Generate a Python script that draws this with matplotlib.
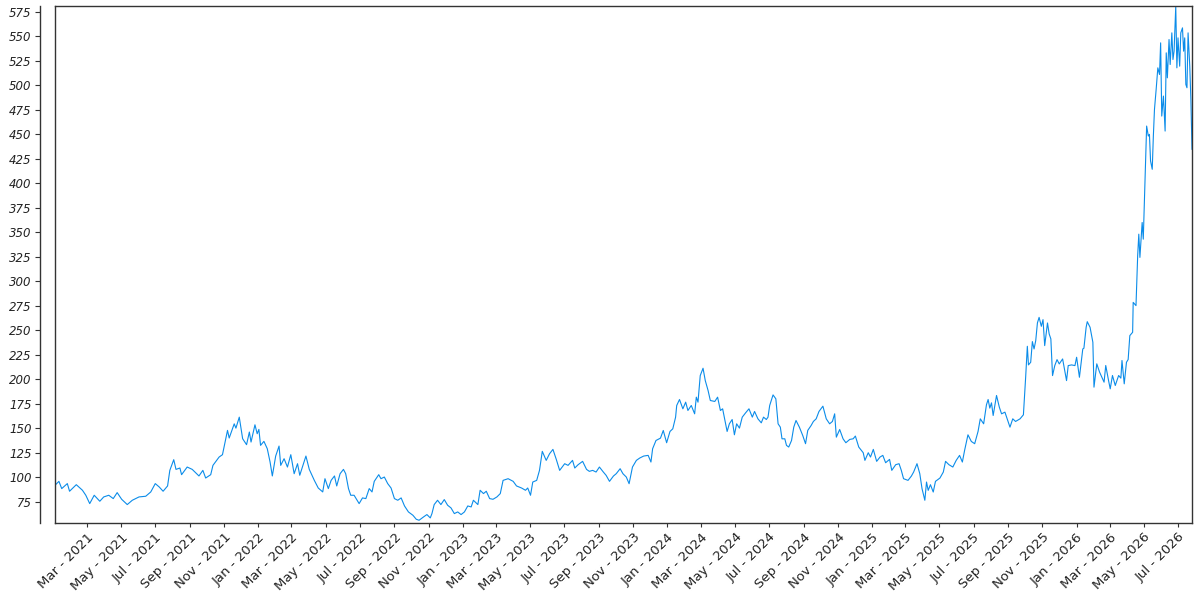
import matplotlib
matplotlib.use("Agg")
import matplotlib.pyplot as plt
import matplotlib.dates as mdates
import pandas as pd

start_date = "2021-01-01"

# day offsets from start_date, and price values
days = [2, 9, 14, 24, 28, 40, 51, 57, 64, 72, 82, 89, 98, 106, 113, 121, 131, 140, 152, 164,
        173, 181, 188, 195, 203, 207, 214, 218, 225, 228, 238, 247, 259, 266, 271, 280, 284, 295, 301, 310,
        313, 322, 325, 331, 337, 344, 349, 352, 359, 363, 366, 369, 375, 381, 386, 390, 396, 402, 405, 411,
        417, 423, 429, 435, 439, 450, 456, 465,
        472, 480, 484, 490, 495, 501, 505, 511, 517, 521, 526, 530, 536, 545, 551, 557, 563, 568, 572, 580,
        584, 590, 596, 602, 608, 614, 620, 626, 633, 641, 647, 652, 660, 666, 672, 675, 679, 685, 691, 697,
        703, 709, 715, 721, 727, 733, 739, 745, 749, 757, 761, 767, 772, 778, 784, 791, 797, 802, 811, 820,
        826, 835, 842, 846, 851, 855, 862, 867, 872, 879, 885, 891, 897, 903, 912, 918, 926, 930, 936, 944,
        951,
        956, 962, 968, 974, 981, 986, 992, 999, 1004, 1011, 1016, 1022, 1027, 1033, 1040, 1046, 1053, 1061, 1066, 1069,
        1075, 1083, 1088, 1094, 1100, 1105, 1110, 1112, 1117, 1123, 1128, 1132, 1138, 1144, 1147, 1150, 1154, 1159, 1163, 1168,
        1172, 1180, 1185, 1190, 1194, 1202, 1206, 1211, 1215, 1219, 1224, 1229, 1235, 1241, 1247, 1251, 1257, 1263, 1267, 1272,
        1275, 1278, 1284, 1289, 1293, 1297, 1300, 1305, 1308, 1312, 1317, 1321, 1325, 1331, 1337, 1342, 1346, 1352, 1356, 1361,
        1366, 1373, 1379, 1385, 1390, 1394, 1397, 1403, 1409, 1414, 1421, 1427, 1431, 1437,
        1445, 1448, 1454, 1458, 1463, 1469, 1475, 1480, 1485, 1492, 1496, 1503, 1509, 1513, 1517, 1525, 1531, 1535, 1541, 1546,
        1550, 1555, 1558, 1561, 1565, 1570, 1574, 1582, 1588, 1592, 1598, 1605, 1611, 1617, 1622, 1626, 1632, 1638, 1644, 1650,
        1654, 1660, 1665, 1668, 1671, 1674, 1677, 1683, 1688, 1692, 1698, 1702, 1707, 1712, 1717, 1725, 1731, 1735, 1738, 1740,
        1744, 1747, 1750, 1753, 1756, 1759, 1763, 1766, 1769, 1774, 1777, 1780, 1783, 1787, 1791, 1795, 1801, 1808, 1811, 1817,
        1823, 1826, 1831, 1837, 1839, 1843, 1845, 1850,
        1855, 1857, 1862, 1867, 1871, 1875, 1878, 1883, 1886, 1890, 1895, 1901, 1905, 1907, 1911, 1915, 1918, 1921, 1926, 1927,
        1932, 1935, 1937, 1939, 1943, 1945, 1948, 1951, 1954, 1956, 1958, 1961, 1963, 1965, 1968, 1971, 1974, 1976, 1978, 1981,
        1984, 1986, 1988, 1991, 1993, 1996, 1998, 2000, 2003, 2005, 2007, 2010, 2012, 2015, 2017, 2019, 2021, 2023, 2025, 2028,
        2030, 2032]

prices = [92.0, 96.0, 88.6, 93.7, 85.9, 92.6, 86.9, 81.8, 73.3, 81.8, 75.7, 80.1, 81.8, 78.4, 84.5, 77.7, 72.3, 76.7, 80.1, 80.8,
          85.2, 93.7, 90.3, 85.9, 91.3, 107.2, 118.1, 108.2, 109.6, 102.8, 110.6, 108.2, 101.5, 107.2, 99.4, 102.8, 112.3, 120.8, 123.2, 148.0,
          140.2, 154.7, 150.3, 161.5, 139.5, 133.4, 146.3, 136.1, 153.7, 144.6, 149.0, 132.7, 136.8, 129.3, 115.7, 101.5, 121.8, 132.0, 112.3, 119.1,
          110.6, 123.2, 103.8, 114.0, 102.2, 121.8, 108.2, 97.0,
          89.2, 85.2, 98.7, 88.6, 97.0, 101.5, 91.3, 103.8, 108.2, 103.8, 88.6, 81.8, 81.8, 73.3, 79.1, 78.4, 88.6, 85.2, 96.0, 102.8,
          98.7, 100.4, 93.7, 89.2, 78.4, 76.7, 79.1, 70.9, 64.8, 61.4, 57.3, 56.3, 59.7, 62.1, 58.7, 63.1, 72.3, 76.7, 72.3, 77.4,
          71.6, 68.9, 63.1, 64.8, 62.1, 64.8, 70.9, 69.9, 76.7, 72.3, 86.9, 83.5, 85.9, 78.4, 77.7, 80.1, 83.5, 97.0, 98.7, 96.0,
          91.3, 89.2, 86.9, 89.2, 81.8, 95.3, 97.0, 107.2, 126.6, 117.4, 124.2, 128.6, 118.4, 107.2, 114.0, 112.3, 117.4, 109.6, 113.0, 116.4,
          108.2,
          106.2, 107.2, 105.5, 110.6, 105.5, 102.1, 96.0, 101.4, 103.8, 108.9, 103.8, 100.4, 93.6, 110.6, 117.4, 119.8, 121.8, 122.5, 115.7, 129.3,
          137.7, 140.1, 147.9, 135.4, 146.9, 149.6, 161.5, 173.4, 179.5, 170.0, 176.8, 168.3, 173.4, 164.9, 181.9, 176.8, 203.9, 211.4, 198.8, 188.7,
          178.5, 177.5, 181.9, 168.3, 170.0, 146.9, 154.7, 159.1, 143.5, 154.7, 150.3, 161.5, 165.9, 170.0, 161.5, 167.3, 159.8, 155.7, 161.5, 159.1,
          161.5, 173.4, 184.2, 180.2, 154.7, 151.3, 139.4, 139.4, 132.7, 131.0, 137.7, 151.3, 158.1, 151.3, 142.8, 134.4, 148.0, 153.0, 157.1, 159.8,
          167.3, 172.7, 159.8, 154.7, 157.1, 164.9, 141.1, 148.9, 139.4, 135.4, 138.8, 139.4, 142.2, 131.0,
          125.2, 117.4, 125.2, 120.8, 128.6, 116.4, 120.8, 122.5, 115.0, 118.4, 107.2, 113.0, 114.0, 107.2, 98.7, 97.0, 101.4, 105.5, 114.0, 103.8,
          88.5, 76.7, 95.3, 86.8, 92.6, 85.1, 96.0, 99.4, 105.5, 116.4, 113.0, 110.6, 117.4, 122.5, 115.7, 127.6, 143.5, 136.7, 134.4, 146.9,
          159.8, 154.7, 174.1, 179.5, 170.7, 176.1, 163.2, 183.6, 171.7, 164.9, 166.6, 159.8, 151.3, 159.8, 157.1, 159.8, 163.9, 202.2, 233.8, 214.8,
          217.5, 238.6, 231.1, 239.6, 257.6, 263.3, 254.2, 261.0, 234.5, 257.6, 246.4, 241.3, 203.9, 214.1, 220.2, 215.8, 220.9, 198.8, 214.1, 214.8,
          214.1, 222.6, 202.2, 231.1, 231.8, 253.2, 258.9, 253.2,
          237.9, 192.1, 215.9, 207.4, 202.3, 197.2, 214.2, 198.9, 190.4, 204.0, 193.8, 204.0, 201.3, 219.3, 195.5, 217.5, 220.3, 244.7, 248.1, 278.6,
          275.3, 326.2, 348.2, 324.5, 360.1, 343.1, 400.8, 458.5, 448.3, 450.0, 422.9, 414.4, 448.3, 475.5, 495.9, 517.9, 511.1, 543.4, 468.7, 489.1,
          453.4, 533.2, 507.7, 546.8, 521.3, 553.6, 526.4, 534.9, 580.7, 517.9, 548.5, 519.6, 553.6, 558.7, 534.9, 548.5, 501.0, 497.6, 553.6, 519.6,
          485.7, 434.8]

y_ticks = list(range(75, 576, 25))

dates = pd.Timestamp(start_date) + pd.to_timedelta(days, unit="D")

fig = plt.figure(figsize=(12, 6), dpi=100)
ax = fig.add_axes([55 / 1200, 77 / 600, 1137 / 1200, 517 / 600])

ax.plot(dates, prices, color="#0B8CE9", linewidth=0.8)

ax.set_xlim(dates[0], dates[-1])
ax.set_ylim(53.5, 581)

frame_color = "#333333"
for s in ["top", "right", "bottom", "left"]:
    ax.spines[s].set_color(frame_color)
    ax.spines[s].set_linewidth(1.0)
ax.spines["left"].set_position(("outward", 10.8))
# inner frame line on the left edge of the plot area
ax.plot([0, 0], [0, 1], transform=ax.transAxes, color=frame_color, linewidth=1.0, clip_on=False)

ax.set_yticks(y_ticks)
ax.tick_params(axis="y", labelsize=8.5, length=3.5, width=0.8, color=frame_color, pad=2.5, labelcolor="#222222")
for lbl in ax.get_yticklabels():
    lbl.set_fontstyle("italic")

ax.xaxis.set_major_locator(mdates.MonthLocator(bymonth=[1, 3, 5, 7, 9, 11]))
ax.xaxis.set_major_formatter(mdates.DateFormatter("%b - %Y"))
ax.tick_params(axis="x", labelsize=9.5, length=3, width=0.8, color=frame_color, pad=2.5, labelcolor="#222222")
for lbl in ax.get_xticklabels():
    lbl.set_rotation(45)
    lbl.set_ha("right")
    lbl.set_rotation_mode("anchor")

fig.savefig("out.png", dpi=100)
